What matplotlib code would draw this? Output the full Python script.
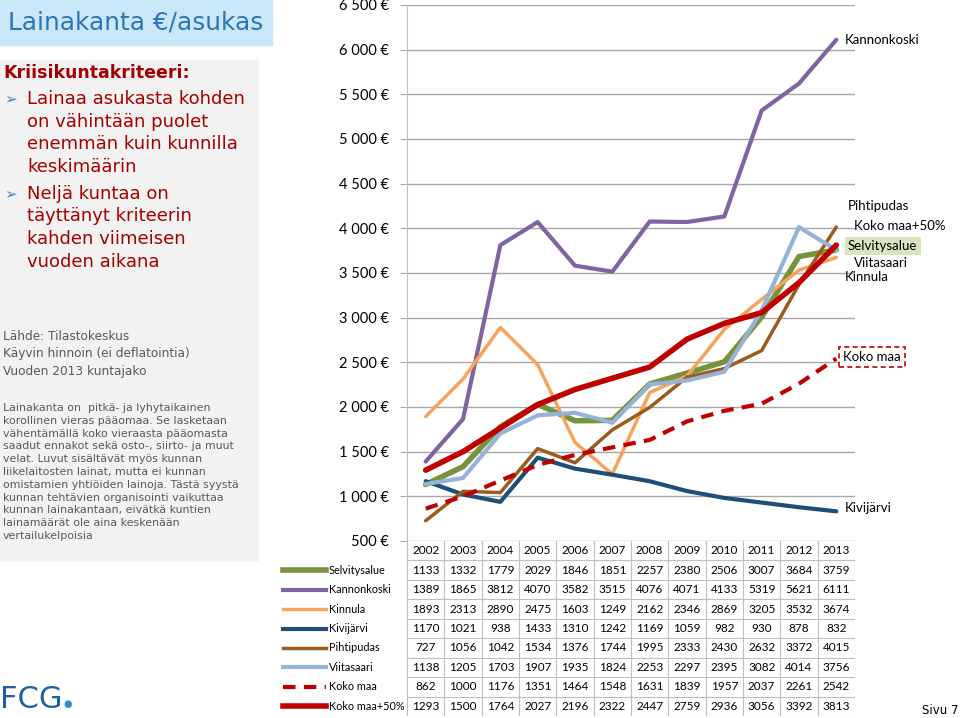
import matplotlib.pyplot as plt
from matplotlib.patches import Rectangle

# loan stock per inhabitant (euro), from the table under the chart
years = [2002, 2003, 2004, 2005, 2006, 2007, 2008, 2009, 2010, 2011, 2012, 2013]
selvitysalue = [1133, 1332, 1779, 2029, 1846, 1851, 2257, 2380, 2506, 3007, 3684, 3759]
kannonkoski = [1389, 1865, 3812, 4070, 3582, 3515, 4076, 4071, 4133, 5319, 5621, 6111]
kinnula = [1893, 2313, 2890, 2475, 1603, 1249, 2162, 2346, 2869, 3205, 3532, 3674]
kivijarvi = [1170, 1021, 938, 1433, 1310, 1242, 1169, 1059, 982, 930, 878, 832]
pihtipudas = [727, 1056, 1042, 1534, 1376, 1744, 1995, 2333, 2430, 2632, 3372, 4015]
viitasaari = [1138, 1205, 1703, 1907, 1935, 1824, 2253, 2297, 2395, 3082, 4014, 3756]
koko_maa = [862, 1000, 1176, 1351, 1464, 1548, 1631, 1839, 1957, 2037, 2261, 2542]
koko_maa50 = [1293, 1500, 1764, 2027, 2196, 2322, 2447, 2759, 2936, 3056, 3392, 3813]

names = ['Selvitysalue', 'Kannonkoski', 'Kinnula', 'Kivijärvi', 'Pihtipudas',
         'Viitasaari', 'Koko maa', 'Koko maa+50%']
series = [selvitysalue, kannonkoski, kinnula, kivijarvi, pihtipudas,
          viitasaari, koko_maa, koko_maa50]
colors = ['#77933c', '#8064a2', '#f9a25a', '#1f4e79', '#9c5a1c',
          '#95b3d7', '#c00000', '#c00000']
widths = [4, 3, 2.5, 3, 2.5, 3, 3, 4]
styles = ['-', '-', '-', '-', '-', '-', (0, (3, 2)), '-']

W, H = 960, 718
fig = plt.figure(figsize=(9.6, 7.18), dpi=100)


def rect(x0, y0, x1, y1):
    # pixel box -> figure fraction
    return [x0 / W, 1 - y1 / H, (x1 - x0) / W, (y1 - y0) / H]


def ftext(x, y, s, **kw):
    fig.text(x / W, 1 - y / H, s, **kw)


# ---------------- left panel ----------------
fig.patches.append(Rectangle((0, 1 - 45 / H), 272 / W, 45 / H, transform=fig.transFigure,
                             color='#c9e7f7', zorder=0))
fig.patches.append(Rectangle((0, 1 - 560 / H), 258 / W, 500 / H, transform=fig.transFigure,
                             color='#f2f2f2', zorder=0))

ftext(8, 23, 'Lainakanta €/asukas', fontsize=17.8, color='#2e75b6', va='center')
ftext(3, 73, 'Kriisikuntakriteeri:', fontsize=12.5, color='#a50000',
      fontweight='bold', va='center')

bullets = [['Lainaa asukasta kohden', 'on vähintään puolet',
            'enemmän kuin kunnilla', 'keskimäärin'],
           ['Neljä kuntaa on', 'täyttänyt kriteerin',
            'kahden viimeisen', 'vuoden aikana']]
y = 99
for lines in bullets:
    ftext(4, y, '➢', fontsize=11, color='#4f81bd', va='center')
    for ln in lines:
        ftext(27, y, ln, fontsize=13, color='#a50000', va='center')
        y += 22.7
    y += 4

ftext(3, 337, 'Lähde: Tilastokeskus', fontsize=8.7, color='#595959', va='center')
ftext(3, 354, 'Käyvin hinnoin (ei deflatointia)', fontsize=8.7, color='#595959', va='center')
ftext(3, 371, 'Vuoden 2013 kuntajako', fontsize=8.7, color='#595959', va='center')

para = ['Lainakanta on  pitkä- ja lyhytaikainen',
        'korollinen vieras pääomaa. Se lasketaan',
        'vähentämällä koko vieraasta pääomasta',
        'saadut ennakot sekä osto-, siirto- ja muut',
        'velat. Luvut sisältävät myös kunnan',
        'liikelaitosten lainat, mutta ei kunnan',
        'omistamien yhtiöiden lainoja. Tästä syystä',
        'kunnan tehtävien organisointi vaikuttaa',
        'kunnan lainakantaan, eivätkä kuntien',
        'lainamäärät ole aina keskenään',
        'vertailukelpoisia']
for i, ln in enumerate(para):
    ftext(3, 408 + i * 12.8, ln, fontsize=7.9, color='#595959', va='center')

ftext(0, 700, 'FCG', fontsize=22, color='#1f5fa0', va='center')
ftext(63, 704, '●', fontsize=7, color='#2b8fd6', va='center')
ftext(922, 710, 'Sivu 7', fontsize=8.5, color='black', va='center')

# ---------------- chart ----------------
ax = fig.add_axes(rect(407, 5, 855, 541))
for name, s, c, lw, ls in zip(names, series, colors, widths, styles):
    ax.plot(years, s, color=c, lw=lw, ls=ls, label=name, solid_capstyle='round')

ax.set_xlim(2001.5, 2013.5)
ax.set_ylim(500, 6500)
yt = list(range(500, 7000, 500))
ax.set_yticks(yt)
ax.set_yticklabels([f'{v:,}'.replace(',', ' ') + ' €' for v in yt],
                   fontsize=10.5, family='Lato')
ax.set_xticks([])
ax.yaxis.grid(True, color='#a6a6a6', lw=1)
ax.set_axisbelow(True)
ax.tick_params(axis='y', length=5, color='#a6a6a6', pad=8)
for sp in ['top', 'right', 'bottom']:
    ax.spines[sp].set_visible(False)
ax.spines['left'].set_color('#bfbfbf')

# series labels at the right end
lab = dict(fontsize=9.5, family='Lato', va='center')
ftext(845, 40, 'Kannonkoski', **lab)
ftext(848, 206, 'Pihtipudas', **lab)
ftext(854, 226, 'Koko maa+50%', **lab)
ftext(848, 246, 'Selvitysalue', bbox=dict(boxstyle='square,pad=0.25', fc='#d7e4bd', ec='none'), **lab)
ftext(854, 263, 'Viitasaari', **lab)
ftext(845, 277, 'Kinnula', **lab)
ftext(843, 357, 'Koko maa', bbox=dict(boxstyle='square,pad=0.3', fc='white', ec='#c00000',
                                      ls=(0, (3, 2)), lw=1.2), **lab)
ftext(845, 508, 'Kivijärvi', **lab)

# ---------------- data table ----------------
tb = fig.add_axes(rect(280, 541, 855, 716))
left = 2001.5 - (407 - 280) / ((855 - 407) / 12)
tb.set_xlim(left, 2013.5)
tb.set_ylim(9, 0)
tb.axis('off')
grid_c = '#bfbfbf'
for k in range(13):
    tb.plot([2001.5 + k, 2001.5 + k], [0, 9], color=grid_c, lw=0.8)
for r in range(1, 10):
    tb.plot([2001.5, 2013.5], [r, r], color=grid_c, lw=0.8)
cell = dict(fontsize=8.5, family='Lato', ha='center', va='center')
for yr in years:
    tb.text(yr, 0.5, str(yr), **cell)
for i, (name, s, c, lw, ls) in enumerate(zip(names, series, colors, widths, styles)):
    row = i + 1.5
    tb.plot([left + 0.08, left + 1.22], [row, row], color=c, lw=lw, ls=ls)
    tb.text(left + 1.3, row, name, fontsize=7.8, family='Lato', va='center')
    for yr, v in zip(years, s):
        tb.text(yr, row, str(v), **cell)

fig.savefig('out.png', dpi=100)
